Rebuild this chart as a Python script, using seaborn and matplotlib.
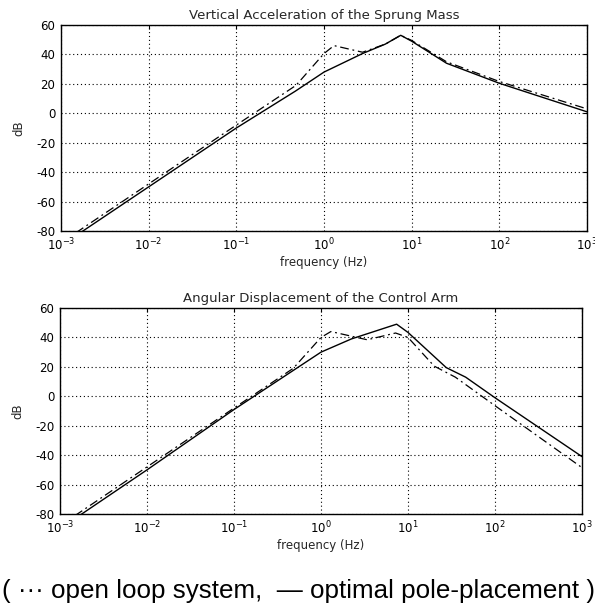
import numpy as np
import pandas as pd
import matplotlib
matplotlib.use("Agg")
import matplotlib.pyplot as plt
import seaborn as sns
from matplotlib.ticker import LogLocator, LogFormatterMathtext, NullLocator, FixedLocator

sns.set_style("white")
plt.rcParams["font.family"] = ["DejaVu Sans"]
plt.rcParams["mathtext.fontset"] = "dejavusans"
plt.rcParams["axes.unicode_minus"] = False

# ---- data ----
# Top: Vertical Acceleration of the Sprung Mass
top_opt_f = [1e-3, 1e-2, 0.1, 0.47, 1.0, 2.75, 5.0, 7.5, 10.0, 25.0, 100.0, 1000.0]
top_opt_db = [-90, -50, -10, 15, 28, 40.6, 47, 53, 49, 34, 20.4, 1.0]
top_open_f = [1e-3, 1e-2, 0.1, 0.48, 1.0, 1.3, 2.75, 5.0, 7.5, 10.0, 25.0, 100.0, 1000.0]
top_open_db = [-88, -48, -8, 19, 40.6, 46, 41.5, 47, 53, 49.5, 35, 21.6, 3.0]

# Bottom: Angular Displacement of the Control Arm
bot_opt_f = [1e-3, 1e-2, 0.1, 1.0, 2.24, 7.4, 10.0, 27.5, 46.0, 100.0, 1000.0]
bot_opt_db = [-90, -50, -9, 30, 39, 49, 43.4, 19.5, 13, -1, -41]
bot_open_f = [1e-3, 1e-2, 0.1, 0.48, 1.0, 1.3, 3.4, 7.2, 10.0, 20.0, 35.0, 100.0, 1000.0]
bot_open_db = [-88, -48, -8, 19, 40, 44, 38.4, 43, 40, 20.5, 13, -6.4, -48.5]

titles = ["Vertical Acceleration of the Sprung Mass",
          "Angular Displacement of the Control Arm"]
yticks = [-80, -60, -40, -20, 0, 20, 40, 60]
caption = "( \u00b7\u00b7\u00b7 open loop system,  \u2014 optimal pole-placement )"

W, H = 595, 605
fig = plt.figure(figsize=(W / 100, H / 100), dpi=100)

axes_px = [(61, 25, 587, 231), (60, 308, 582, 514)]
series = [
    (top_open_f, top_open_db, top_opt_f, top_opt_db),
    (bot_open_f, bot_open_db, bot_opt_f, bot_opt_db),
]

for (l, t, r, b), (of, odb, pf, pdb), title in zip(axes_px, series, titles):
    ax = fig.add_axes([l / W, 1 - b / H, (r - l) / W, (b - t) / H])
    ax.set_xscale("log")
    df_open = pd.DataFrame({"f": of, "dB": odb})
    df_opt = pd.DataFrame({"f": pf, "dB": pdb})
    sns.lineplot(data=df_opt, x="f", y="dB", ax=ax, color="black", lw=1.0,
                 estimator=None, sort=True)
    sns.lineplot(data=df_open, x="f", y="dB", ax=ax, color="black", lw=0.9,
                 estimator=None, sort=True, linestyle=(0, (7, 3, 1.5, 3)))
    ax.set_xlim(1e-3, 1e3)
    ax.set_ylim(-80, 60)
    ax.xaxis.set_major_locator(LogLocator(base=10, numticks=10))
    ax.xaxis.set_major_formatter(LogFormatterMathtext())
    ax.xaxis.set_minor_locator(NullLocator())
    ax.yaxis.set_major_locator(FixedLocator(yticks))
    ax.grid(True, which="major", color="black", linestyle=(0, (1, 2.5)), lw=0.8)
    ax.tick_params(direction="in", length=3, width=0.8, labelsize=8.5,
                   colors="black", pad=4, top=True, right=True)
    for s in ax.spines.values():
        s.set_color("black")
        s.set_linewidth(1.0)
    ax.set_title(title, fontsize=9.5, pad=4)
    ax.set_xlabel("frequency (Hz)", fontsize=8.5, labelpad=2)
    ax.set_ylabel("dB", fontsize=8.5, labelpad=8)

fig.text(2 / W, 1 - 598 / H, caption, fontsize=18.7, family=["Liberation Sans", "DejaVu Sans"],
         ha="left", va="baseline", color="black")

fig.savefig("out.png", dpi=100)
